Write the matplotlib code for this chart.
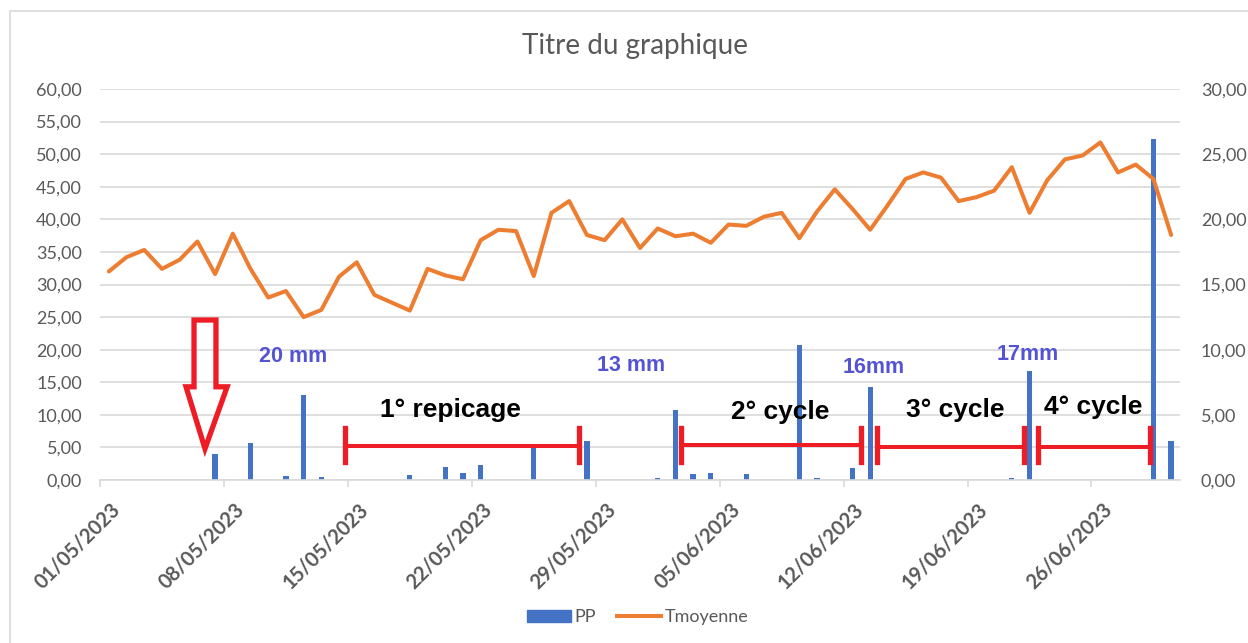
import datetime as dt
import matplotlib
matplotlib.use("Agg")
import matplotlib.pyplot as plt
import matplotlib.dates as mdates
import matplotlib.transforms as mtransforms
from matplotlib.patches import Polygon, Rectangle, Patch
from matplotlib.lines import Line2D

# --- data ---
start = dt.date(2023, 5, 1)
dates = [start + dt.timedelta(days=i) for i in range(61)]

pp = [0, 0, 0, 0, 0, 0, 4.0, 0, 5.7, 0,
      0.6, 13.0, 0.4, 0, 0, 0, 0, 0.8, 0, 2.0,
      1.1, 2.3, 0, 0, 5.0, 0, 0, 6.0, 0, 0,
      0, 0.35, 10.8, 0.9, 1.1, 0, 0.9, 0, 0, 20.7,
      0.3, 0, 1.9, 14.2, 0, 0, 0, 0, 0, 0,
      0, 0.3, 16.8, 0, 0, 0, 0, 0, 0, 52.3,
      6.0]

tmoy = [16.0, 17.1, 17.65, 16.2, 16.9, 18.3, 15.8, 18.9, 16.2, 14.0,
        14.5, 12.5, 13.05, 15.6, 16.7, 14.2, 13.6, 13.0, 16.2, 15.7,
        15.4, 18.4, 19.2, 19.1, 15.65, 20.5, 21.4, 18.8, 18.4, 20.0,
        17.8, 19.3, 18.7, 18.9, 18.2, 19.6, 19.5, 20.2, 20.5, 18.55,
        20.6, 22.3, 20.8, 19.2, 21.1, 23.1, 23.6, 23.2, 21.4, 21.7,
        22.2, 24.0, 20.5, 23.0, 24.6, 24.9, 25.9, 23.6, 24.2, 23.1,
        18.8]

left_ticks = [0, 5, 10, 15, 20, 25, 30, 35, 40, 45, 50, 55, 60]
right_ticks = [0, 5, 10, 15, 20, 25, 30]

# annotations: (text, day offset, value on left axis)
rain_labels = [("20 mm", 10.9, 18.9), ("13 mm", 30.0, 17.6),
               ("16mm", 43.7, 17.2), ("17mm", 52.4, 19.3)]
cycle_labels = [("1° repicage", 19.8, 10.7), ("2° cycle", 38.4, 10.4),
                ("3° cycle", 48.3, 10.7), ("4° cycle", 56.1, 11.2)]
# brackets: (start day, end day, level)
brackets = [(13.84, 27.06, 5.2), (32.8, 43.0, 5.3),
            (43.9, 52.2, 5.0), (52.97, 59.3, 5.0)]

BLUE = "#4472C4"
ORANGE = "#ED7D31"
RED = "#EE1C25"
GREY = "#595959"
GRID = "#d9d9d9"

fig = plt.figure(figsize=(12.48, 6.43), dpi=100)
fig.patches.append(Rectangle((10 / 1248, -0.1), 1.1, 1 - 11 / 643 + 0.1,
                             transform=fig.transFigure, fill=False,
                             edgecolor=GRID, lw=1.2))

ax = fig.add_axes([100 / 1248, 1 - 480 / 643, 1080 / 1248, 391 / 643])
ax2 = ax.twinx()

x0 = mdates.date2num(start)
xs = [mdates.date2num(d) + 0.5 for d in dates]

ax.bar(xs, pp, width=0.3, color=BLUE, zorder=2)
ax2.plot(xs, tmoy, color=ORANGE, lw=2.9, solid_joinstyle="round",
         solid_capstyle="round")

ax.set_xlim(x0, x0 + 61)
ax.set_ylim(0, 60)
ax2.set_ylim(0, 30)
ax.set_yticks(left_ticks)
ax2.set_yticks(right_ticks)
ax.set_yticklabels([f"{v:.2f}".replace(".", ",") for v in left_ticks])
ax2.set_yticklabels([f"{v:.2f}".replace(".", ",") for v in right_ticks])

ticks = [x0 + 7 * k for k in range(9)]
ax.set_xticks(ticks)
ax.set_xticklabels([mdates.num2date(t).strftime("%d/%m/%Y") for t in ticks])

ax.yaxis.grid(True, color=GRID, lw=1.2)
ax.set_axisbelow(True)
for a in (ax, ax2):
    for s in a.spines.values():
        s.set_visible(False)
ax.spines["bottom"].set_visible(True)
ax.spines["bottom"].set_color(GRID)
ax.spines["bottom"].set_linewidth(1.2)

ax.tick_params(axis="y", length=0, pad=13, labelsize=13, labelcolor=GREY)
ax2.tick_params(axis="y", length=0, pad=15, labelsize=13, labelcolor=GREY)
ax.tick_params(axis="x", length=5, width=1.2, color=GRID, labelsize=14.5,
               labelcolor=GREY)

offset = mtransforms.ScaledTranslation(17 / 100, -14 / 100, fig.dpi_scale_trans)
for lbl in ax.get_xticklabels():
    lbl.set_rotation(45)
    lbl.set_ha("right")
    lbl.set_va("center")
    lbl.set_rotation_mode("anchor")
    lbl.set_fontweight("bold")
    lbl.set_transform(lbl.get_transform() + offset)

for lbl in ax.get_yticklabels() + ax2.get_yticklabels() + ax.get_xticklabels():
    lbl.set_family("Lato")

fig.text(0.509, 0.928, "Titre du graphique", ha="center", va="center",
         fontsize=20, color=GREY, family="Lato")

# red hollow arrow
arrow = [(5.31, 24.55), (6.55, 24.55), (6.55, 14.3), (7.18, 14.3),
         (5.93, 4.8), (4.86, 14.3), (5.31, 14.3)]
ax.add_patch(Polygon([(x0 + a, b) for a, b in arrow], closed=True,
                     fill=False, edgecolor=RED, lw=3.8, zorder=5))

# red brackets
for a, b, lev in brackets:
    ax.plot([x0 + a, x0 + b], [lev, lev], color=RED, lw=2.9, zorder=5)
    for e in (a, b):
        ax.plot([x0 + e, x0 + e], [2.7, 8.0], color=RED, lw=3.8, zorder=5)

for txt, d, v in cycle_labels:
    ax.text(x0 + d, v, txt, ha="center", va="center", fontsize=19,
            fontweight="bold", color="black", family="Liberation Sans",
            zorder=6)
for txt, d, v in rain_labels:
    ax.text(x0 + d, v, txt, ha="center", va="center", fontsize=15.5,
            fontweight="bold", color="#5353D3", family="Liberation Sans",
            zorder=6)

handles = [Patch(color=BLUE), Line2D([], [], color=ORANGE, lw=2.9)]
fig.legend(handles, ["PP", "Tmoyenne"], loc="center",
           bbox_to_anchor=(0.511, 0.04), ncol=2, frameon=False,
           prop={"family": "Lato", "size": 13}, labelcolor=GREY,
           handlelength=2.4, handletextpad=0.2, columnspacing=1.2)

fig.savefig("out.png", dpi=100)
